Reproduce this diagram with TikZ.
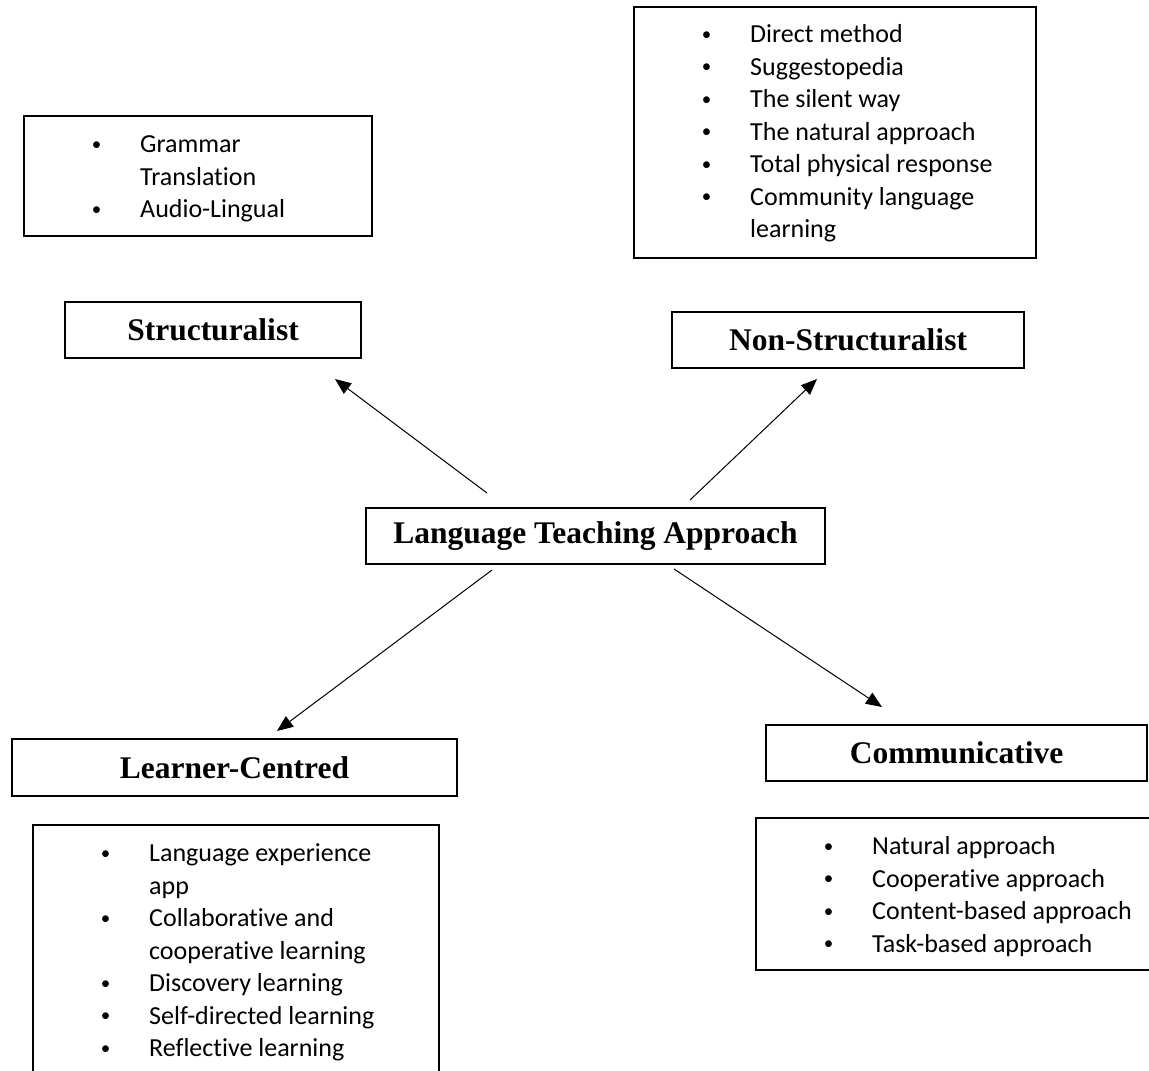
\documentclass[tikz,border=0pt]{standalone}
\usepackage{fontspec}
\setmainfont{Liberation Serif}
\newfontfamily\listfont[RawFeature={-liga;-clig;-calt;-dlig}]{Carlito}
\usetikzlibrary{arrows.meta,positioning}

\tikzset{
  headbox/.style={draw, line width=1.5pt, inner sep=0pt,
    font=\bfseries\fontsize{31.5}{38}\selectfont},
  listbox/.style={draw, line width=1.5pt, anchor=north west, inner sep=0pt},
  listtext/.style={align=left, inner sep=0pt,
    font=\listfont\fontsize{26}{32.5}\selectfont},
  link/.style={-{Triangle[length=16pt,width=13pt]}, line width=1pt}
}
\newcommand{\bdot}{\raisebox{2.5pt}{\fontsize{19}{19}\selectfont\textbullet}}
\newcommand{\bitem}[1]{\strut\makebox[9pt]{\bdot}\hspace{39pt}#1}
\newcommand{\bcont}[1]{\strut\hspace*{48pt}#1}

\begin{document}
\begin{tikzpicture}[x=1pt,y=-1pt]
\useasboundingbox (0,0) rectangle (1149,1071);

% headings
\node[headbox, minimum width=296pt, minimum height=56pt] (struct) at (213,330) {Structuralist};
\node[headbox, minimum width=352pt, minimum height=56pt] (nonstruct) at (848,340) {Non-Structuralist};
\node[headbox, minimum width=459pt, minimum height=56pt] (lta) at (595.5,536) {Language Teaching Approach};
\node[headbox, minimum width=445pt, minimum height=57pt] (learner) at (234.5,767.5) {Learner-Centred};
\node[headbox, minimum width=381pt, minimum height=56pt] (comm) at (956.5,753) {Communicative};

% lists
\node[listbox, minimum width=348pt, minimum height=120pt] (gbox) at (23,115) {};
\node[listtext, below right=15pt and 69pt of gbox.north west] (glist)
  {\bitem{Grammar}\\ \bcont{Translation}\\ \bitem{Audio-Lingual}};

\node[listbox, minimum width=402pt, minimum height=251pt] (dbox) at (633,6) {};
\node[listtext, below right=14pt and 69pt of dbox.north west] (dlist)
  {\bitem{Direct method}\\ \bitem{Suggestopedia}\\ \bitem{The silent way}\\
   \bitem{The natural approach}\\ \bitem{Total physical response}\\
   \bitem{Community language}\\ \bcont{learning}};

\node[listbox, minimum width=406pt, minimum height=260pt] (lbox) at (32,824) {};
\node[listtext, below right=15pt and 69pt of lbox.north west] (llist)
  {\bitem{Language experience}\\ \bcont{app}\\ \bitem{Collaborative and}\\
   \bcont{cooperative learning}\\ \bitem{Discovery learning}\\
   \bitem{Self-directed learning}\\ \bitem{Reflective learning}};

\node[listbox, minimum width=405pt, minimum height=152pt] (cbox) at (755,817) {};
\node[listtext, below right=15pt and 69pt of cbox.north west] (clist)
  {\bitem{Natural approach}\\ \bitem{Cooperative approach}\\
   \bitem{Content-based approach}\\ \bitem{Task-based approach}};

% arrows
\coordinate (a1) at (487,493);
\coordinate (b1) at (335,379);
\coordinate (a2) at (690,500);
\coordinate (b2) at (817,379);
\coordinate (a3) at (492,570);
\coordinate (b3) at (277,731);
\coordinate (a4) at (674,569);
\coordinate (b4) at (882,707);
\draw[link] (a1) -- (b1);
\draw[link] (a2) -- (b2);
\draw[link] (a3) -- (b3);
\draw[link] (a4) -- (b4);
\end{tikzpicture}
\end{document}
